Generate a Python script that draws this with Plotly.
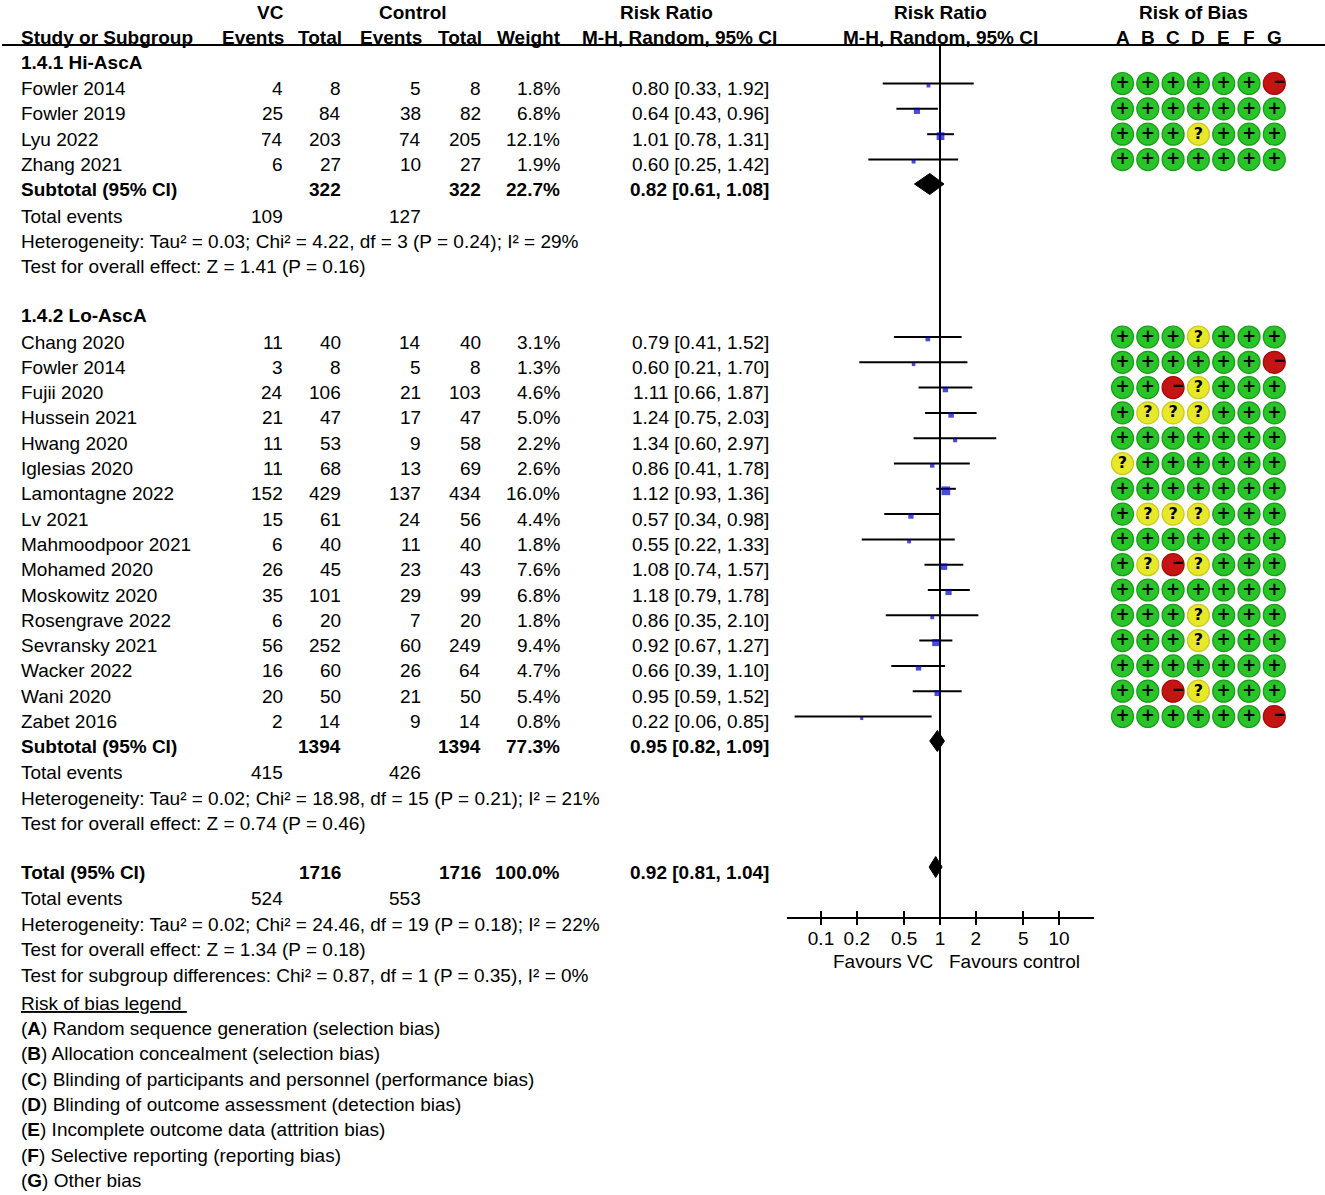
import plotly.graph_objects as go
import math

W, H = 1325, 1195
FONT = "Liberation Sans, Arial, sans-serif"
FS = 19

# ---------------- data ----------------
hi_studies = ["Fowler 2014", "Fowler 2019", "Lyu 2022", "Zhang 2021"]
hi_vc_events = [4, 25, 74, 6]
hi_vc_total = [8, 84, 203, 27]
hi_ctrl_events = [5, 38, 74, 10]
hi_ctrl_total = [8, 82, 205, 27]
hi_weight = [1.8, 6.8, 12.1, 1.9]
hi_rr = [0.80, 0.64, 1.01, 0.60]
hi_ci_lo = [0.33, 0.43, 0.78, 0.25]
hi_ci_hi = [1.92, 0.96, 1.31, 1.42]
hi_rob = ["++++++-", "+++++++", "+++?+++", "+++++++"]

lo_studies = ["Chang 2020", "Fowler 2014", "Fujii 2020", "Hussein 2021", "Hwang 2020",
              "Iglesias 2020", "Lamontagne 2022", "Lv 2021", "Mahmoodpoor 2021",
              "Mohamed 2020", "Moskowitz 2020", "Rosengrave 2022", "Sevransky 2021",
              "Wacker 2022", "Wani 2020", "Zabet 2016"]
lo_vc_events = [11, 3, 24, 21, 11, 11, 152, 15, 6, 26, 35, 6, 56, 16, 20, 2]
lo_vc_total = [40, 8, 106, 47, 53, 68, 429, 61, 40, 45, 101, 20, 252, 60, 50, 14]
lo_ctrl_events = [14, 5, 21, 17, 9, 13, 137, 24, 11, 23, 29, 7, 60, 26, 21, 9]
lo_ctrl_total = [40, 8, 103, 47, 58, 69, 434, 56, 40, 43, 99, 20, 249, 64, 50, 14]
lo_weight = [3.1, 1.3, 4.6, 5.0, 2.2, 2.6, 16.0, 4.4, 1.8, 7.6, 6.8, 1.8, 9.4, 4.7, 5.4, 0.8]
lo_rr = [0.79, 0.60, 1.11, 1.24, 1.34, 0.86, 1.12, 0.57, 0.55, 1.08, 1.18, 0.86, 0.92, 0.66, 0.95, 0.22]
lo_ci_lo = [0.41, 0.21, 0.66, 0.75, 0.60, 0.41, 0.93, 0.34, 0.22, 0.74, 0.79, 0.35, 0.67, 0.39, 0.59, 0.06]
lo_ci_hi = [1.52, 1.70, 1.87, 2.03, 2.97, 1.78, 1.36, 0.98, 1.33, 1.57, 1.78, 2.10, 1.27, 1.10, 1.52, 0.85]
lo_rob = ["+++?+++", "++++++-", "++-?+++", "+???+++", "+++++++", "?++++++", "+++++++",
          "+???+++", "+++++++", "+?-?+++", "+++++++", "+++?+++", "+++?+++", "+++++++",
          "++-?+++", "++++++-"]

group_titles = ["1.4.1 Hi-AscA", "1.4.2 Lo-AscA"]
sub_vc_total = [322, 1394]
sub_ctrl_total = [322, 1394]
sub_weight = [22.7, 77.3]
sub_rr = [0.82, 0.95]
sub_ci_lo = [0.61, 0.82]
sub_ci_hi = [1.08, 1.09]
sub_vc_events = [109, 415]
sub_ctrl_events = [127, 426]
sub_het = ["Heterogeneity: Tau² = 0.03; Chi² = 4.22, df = 3 (P = 0.24); I² = 29%",
           "Heterogeneity: Tau² = 0.02; Chi² = 18.98, df = 15 (P = 0.21); I² = 21%"]
sub_test = ["Test for overall effect: Z = 1.41 (P = 0.16)",
            "Test for overall effect: Z = 0.74 (P = 0.46)"]

tot_vc_total = 1716
tot_ctrl_total = 1716
tot_weight = 100.0
tot_rr = 0.92
tot_ci_lo = 0.81
tot_ci_hi = 1.04
tot_vc_events = 524
tot_ctrl_events = 553
tot_het = "Heterogeneity: Tau² = 0.02; Chi² = 24.46, df = 19 (P = 0.18); I² = 22%"
tot_test = "Test for overall effect: Z = 1.34 (P = 0.18)"
tot_subgroup = "Test for subgroup differences: Chi² = 0.87, df = 1 (P = 0.35), I² = 0%"

axis_ticks = [0.1, 0.2, 0.5, 1, 2, 5, 10]
axis_ticklabels = ["0.1", "0.2", "0.5", "1", "2", "5", "10"]
favours_left = "Favours VC"
favours_right = "Favours control"

rob_domains = ["A", "B", "C", "D", "E", "F", "G"]
rob_legend = ["Random sequence generation (selection bias)",
              "Allocation concealment (selection bias)",
              "Blinding of participants and personnel (performance bias)",
              "Blinding of outcome assessment (detection bias)",
              "Incomplete outcome data (attrition bias)",
              "Selective reporting (reporting bias)",
              "Other bias"]

# ---------------- layout geometry (pixels) ----------------
X_NAME = 20
X_VCE, X_VCT, X_CE, X_CT, X_W, X_RR = 284, 342, 422, 482, 561, 770
FOREST_L, FOREST_R = 787, 1094
ONE_X, DECADE = 940, 119
AXIS_Y = 918
ROB_X0, ROB_DX = 1122.5, 25.3
G_OFF = -5  # graphics sit slightly above text centre

g1_head_y = 62
g1_rows = [88.5 + 25.35 * i for i in range(len(hi_studies))]
g1_block = [189, 216, 241, 266]
g2_head_y = 315
g2_rows = [342 + 25.3 * i for i in range(len(lo_studies))]
g2_block = [746, 772, 798, 823]
tot_block = [872, 898, 924, 949, 975]
legend_title_y = 1003
legend_rows = [1028.5 + 25.3 * i for i in range(len(rob_legend))]

annotations = []


def txt(x, y, s, anchor="left", bold=False, size=FS):
    annotations.append(dict(
        x=x, y=y, xref="x", yref="y", text=("<b>%s</b>" % s) if bold else s,
        showarrow=False, xanchor=anchor, yanchor="middle", borderpad=0,
        font=dict(family=FONT, size=size, color="black")))


# headers
txt(270, 12, "VC", "center", True)
txt(413, 12, "Control", "center", True)
txt(666, 12, "Risk Ratio", "center", True)
txt(ONE_X, 12, "Risk Ratio", "center", True)
txt(1193, 12, "Risk of Bias", "center", True)
txt(X_NAME, 37, "Study or Subgroup", "left", True)
txt(X_VCE + 1, 37, "Events", "right", True)
txt(X_VCT + 1, 37, "Total", "right", True)
txt(X_CE + 1, 37, "Events", "right", True)
txt(X_CT + 1, 37, "Total", "right", True)
txt(X_W + 1, 37, "Weight", "right", True)
txt(778, 37, "M-H, Random, 95% CI", "right", True)
txt(ONE_X, 37, "M-H, Random, 95% CI", "center", True)
for j, d in enumerate(rob_domains):
    txt(ROB_X0 + ROB_DX * j, 37, d, "center", True)


def study_rows(names, ve, vt, ce, ct, w, rr, lo, hi, ys):
    for i, n in enumerate(names):
        y = ys[i]
        txt(X_NAME, y, n)
        txt(X_VCE, y, str(ve[i]), "right")
        txt(X_VCT, y, str(vt[i]), "right")
        txt(X_CE, y, str(ce[i]), "right")
        txt(X_CT, y, str(ct[i]), "right")
        txt(X_W, y, "%.1f%%" % w[i], "right")
        txt(X_RR, y, "%.2f [%.2f, %.2f]" % (rr[i], lo[i], hi[i]), "right")


def sub_block(k, ys, label="Subtotal (95% CI)"):
    y0, y1, y2, y3 = ys
    txt(X_NAME, y0, label, "left", True)
    txt(X_VCT, y0, str(sub_vc_total[k]), "right", True)
    txt(X_CT, y0, str(sub_ctrl_total[k]), "right", True)
    txt(X_W, y0, "%.1f%%" % sub_weight[k], "right", True)
    txt(X_RR, y0, "%.2f [%.2f, %.2f]" % (sub_rr[k], sub_ci_lo[k], sub_ci_hi[k]), "right", True)
    txt(X_NAME, y1, "Total events")
    txt(X_VCE, y1, str(sub_vc_events[k]), "right")
    txt(X_CE, y1, str(sub_ctrl_events[k]), "right")
    txt(X_NAME, y2, sub_het[k])
    txt(X_NAME, y3, sub_test[k])


txt(X_NAME, g1_head_y, group_titles[0], "left", True)
study_rows(hi_studies, hi_vc_events, hi_vc_total, hi_ctrl_events, hi_ctrl_total,
           hi_weight, hi_rr, hi_ci_lo, hi_ci_hi, g1_rows)
sub_block(0, g1_block)
txt(X_NAME, g2_head_y, group_titles[1], "left", True)
study_rows(lo_studies, lo_vc_events, lo_vc_total, lo_ctrl_events, lo_ctrl_total,
           lo_weight, lo_rr, lo_ci_lo, lo_ci_hi, g2_rows)
sub_block(1, g2_block)

# overall
ty = tot_block
txt(X_NAME, ty[0], "Total (95% CI)", "left", True)
txt(X_VCT, ty[0], str(tot_vc_total), "right", True)
txt(X_CT, ty[0], str(tot_ctrl_total), "right", True)
txt(X_W, ty[0], "%.1f%%" % tot_weight, "right", True)
txt(X_RR, ty[0], "%.2f [%.2f, %.2f]" % (tot_rr, tot_ci_lo, tot_ci_hi), "right", True)
txt(X_NAME, ty[1], "Total events")
txt(X_VCE, ty[1], str(tot_vc_events), "right")
txt(X_CE, ty[1], str(tot_ctrl_events), "right")
txt(X_NAME, ty[2], tot_het)
txt(X_NAME, ty[3], tot_test)
txt(X_NAME, ty[4], tot_subgroup)

# risk of bias legend
txt(X_NAME, legend_title_y, "<u>Risk of bias legend </u>")
for i, s in enumerate(rob_legend):
    txt(X_NAME, legend_rows[i], "(<b>%s</b>) %s" % (rob_domains[i], s))

# favours labels
txt(883, 961, favours_left, "center")
txt(1014, 961, favours_right, "center")

# ---------------- forest plot traces ----------------
fig = go.Figure()

all_lo = hi_ci_lo + lo_ci_lo
all_hi = hi_ci_hi + lo_ci_hi
all_rr = hi_rr + lo_rr
all_w = hi_weight + lo_weight
all_y = [y + G_OFF for y in g1_rows + g2_rows]

ci_x, ci_y = [], []
for l, h, y in zip(all_lo, all_hi, all_y):
    ci_x += [l, h, None]
    ci_y += [y, y, None]

# null line
fig.add_trace(go.Scatter(x=[1, 1], y=[45, AXIS_Y], xaxis="x2", yaxis="y", mode="lines",
                         line=dict(color="black", width=2), hoverinfo="skip"))
fig.add_trace(go.Scatter(x=ci_x, y=ci_y, xaxis="x2", yaxis="y", mode="lines",
                         line=dict(color="black", width=2), hoverinfo="skip"))
fig.add_trace(go.Scatter(x=all_rr, y=[y + 2 for y in all_y], xaxis="x2", yaxis="y",
                         mode="markers",
                         marker=dict(symbol="square", color="#0000C0",
                                     size=[1.5 + 1.8 * math.sqrt(w) for w in all_w],
                                     line=dict(width=0)),
                         hoverinfo="skip"))

# diamonds
diam_est = sub_rr + [tot_rr]
diam_lo = sub_ci_lo + [tot_ci_lo]
diam_hi = sub_ci_hi + [tot_ci_hi]
diam_y = [g1_block[0] + G_OFF, g2_block[0] + G_OFF, tot_block[0] + G_OFF]
for e, l, h, y in zip(diam_est, diam_lo, diam_hi, diam_y):
    fig.add_trace(go.Scatter(x=[l, e, h, e, l], y=[y, y - 10.5, y, y + 10.5, y],
                             xaxis="x2", yaxis="y", mode="lines", fill="toself",
                             fillcolor="black", line=dict(color="black", width=1),
                             hoverinfo="skip"))

# dummy trace for the upward tick overlay axis
fig.add_trace(go.Scatter(x=[1], y=[None], xaxis="x3", yaxis="y", mode="markers",
                         hoverinfo="skip"))

# ---------------- risk of bias circles ----------------
all_rob = hi_rob + lo_rob
rob_fill = {"+": "#28C428", "?": "#E8E82A", "-": "#C41414"}
rob_edge = {"+": "#1A9C1A", "?": "#C9C91C", "-": "#A80A0A"}
for code in ["+", "?", "-"]:
    xs, ys = [], []
    for r, y in zip(all_rob, all_y):
        for j, c in enumerate(r):
            if c == code:
                xs.append(ROB_X0 + ROB_DX * j)
                ys.append(y)
    fig.add_trace(go.Scatter(x=xs, y=ys, xaxis="x", yaxis="y", mode="markers",
                             marker=dict(size=22, color=rob_fill[code],
                                         line=dict(color=rob_edge[code], width=1.2)),
                             hoverinfo="skip"))
    if code == "-":
        fig.add_trace(go.Scatter(x=[x + 5 for x in xs], y=ys, xaxis="x", yaxis="y",
                                 mode="text", text=["<b>−</b>"] * len(xs),
                                 textposition="middle center",
                                 textfont=dict(family=FONT, size=19, color="black"),
                                 hoverinfo="skip"))
    else:
        fig.add_trace(go.Scatter(x=xs, y=[y + 0.5 for y in ys], xaxis="x", yaxis="y",
                                 mode="text", text=["<b>%s</b>" % code] * len(xs),
                                 textposition="middle center",
                                 textfont=dict(family="DejaVu Sans, " + FONT,
                                               size=17 if code == "+" else 16,
                                               color="black"),
                                 hoverinfo="skip"))

# header rule
shapes = [dict(type="line", xref="x", yref="y", x0=2, x1=W, y0=45, y1=45,
               line=dict(color="black", width=2))]

log_l = math.log10(1) + (FOREST_L - ONE_X) / DECADE
log_r = math.log10(1) + (FOREST_R - ONE_X) / DECADE
axis_pos = 1 - AXIS_Y / H

fig.update_layout(
    width=W, height=H, margin=dict(l=0, r=0, t=0, b=0),
    paper_bgcolor="white", plot_bgcolor="white", showlegend=False,
    font=dict(family=FONT, size=FS, color="black"),
    xaxis=dict(range=[0, W], domain=[0, 1], visible=False, fixedrange=True),
    yaxis=dict(range=[H, 0], domain=[0, 1], visible=False, fixedrange=True),
    xaxis2=dict(type="log", range=[log_l, log_r],
                domain=[FOREST_L / W, FOREST_R / W], anchor="free", position=axis_pos,
                tickmode="array", tickvals=axis_ticks, ticktext=axis_ticklabels,
                ticks="outside", ticklen=6, tickwidth=2, tickcolor="black",
                ticklabelstandoff=-3,
                showline=True, linewidth=2, linecolor="black",
                showgrid=False, zeroline=False,
                tickfont=dict(family=FONT, size=FS, color="black")),
    xaxis3=dict(type="log", matches="x2", overlaying="x2", anchor="free", position=axis_pos,
                tickmode="array", tickvals=axis_ticks,
                ticks="inside", ticklen=7, tickwidth=2, tickcolor="black",
                showticklabels=False, showline=False, showgrid=False, zeroline=False),
    annotations=annotations,
    shapes=shapes,
)

fig.write_html("out.html", config={"displayModeBar": False},
               post_script="document.body.style.margin='0';document.body.style.overflow='hidden';")
